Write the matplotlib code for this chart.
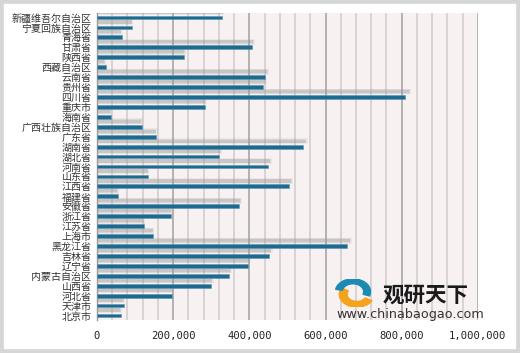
"""Horizontal bar chart of provincial values, recreated with matplotlib."""

import numpy as np
import matplotlib.pyplot as plt
from matplotlib.patches import Rectangle, Wedge
from matplotlib.ticker import MultipleLocator, FuncFormatter

plt.rcParams['font.family'] = ['Noto Sans CJK SC', 'DejaVu Sans']

# provinces, top to bottom as drawn
provinces = ['新疆维吾尔自治区', '宁夏回族自治区', '青海省', '甘肃省', '陕西省',
             '西藏自治区', '云南省', '贵州省', '四川省', '重庆市', '海南省',
             '广西壮族自治区', '广东省', '湖南省', '湖北省', '河南省', '山东省',
             '江西省', '福建省', '安徽省', '浙江省', '江苏省', '上海市',
             '黑龙江省', '吉林省', '辽宁省', '内蒙古自治区', '山西省', '河北省',
             '天津市', '北京市']
values = [327000, 93000, 65000, 406000, 228000,
          23000, 441000, 437000, 808000, 283000, 37000,
          118000, 155000, 541000, 320000, 449000, 134000,
          504000, 55000, 373000, 194000, 123000, 147000,
          656000, 451000, 396000, 346000, 299000, 197000,
          71000, 63000]
x_ticks = [0, 200000, 400000, 600000, 800000, 1000000]

bar_color = '#1d6a91'
shadow_color = '#9c9c9c'

fig = plt.figure(figsize=(5.2, 3.53), dpi=100)
ax = fig.add_axes([0.1865, 0.0935, 0.7325, 0.871])
ax.set_facecolor('#f8f1f1')

y = np.arange(len(provinces))
vals = np.array(values, dtype=float)

# soft drop shadow, offset upwards a little
shadow = np.clip(vals * 1.02 - 5000, 0, None)
for h, a, extra in [(0.6, 0.12, 6000), (0.46, 0.2, 3000), (0.32, 0.3, 1000)]:
    ax.barh(y - 0.55, shadow + extra, height=h, color=shadow_color,
            alpha=a, linewidth=0, zorder=2)

ax.barh(y, vals, height=0.38, color=bar_color, edgecolor='#5d95b3',
        linewidth=0.4, zorder=3)

ax.set_xlim(0, 1000000)
ax.set_ylim(30.45, -0.5)
ax.set_yticks(y)
ax.set_yticklabels(provinces, fontsize=7.2, color='#333333')
ax.set_xticks(x_ticks)
ax.xaxis.set_minor_locator(MultipleLocator(40000))
ax.xaxis.set_major_formatter(FuncFormatter(lambda v, p: f"{int(v):,}"))
for lbl in ax.get_xticklabels():
    lbl.set_family('DejaVu Sans Mono')
    lbl.set_fontsize(7.6)
    lbl.set_color('#222222')

ax.tick_params(axis='both', which='both', length=0)
ax.tick_params(axis='x', pad=8)
ax.tick_params(axis='y', pad=4)
ax.set_axisbelow(True)
ax.grid(axis='x', which='minor', color='#d2cbcb', linewidth=1.1)
ax.grid(axis='x', which='major', color='#a9a6a6', linewidth=1.2)
for side in ['top', 'right', 'bottom']:
    ax.spines[side].set_visible(False)
ax.spines['left'].set_color('#9a9a9a')
ax.spines['left'].set_linewidth(1.0)

# watermark
fig.text(0.735, 0.165, '观研天下', fontsize=15.5, fontweight='bold',
         color='#1a1a1a', va='center', ha='left')
fig.text(0.648, 0.108, 'www.chinabaogao.com', fontsize=9.2,
         family='DejaVu Sans', color='#333333', va='center', ha='left')
logo_ax = fig.add_axes([0.645, 0.13, 0.075, 0.08])
logo_ax.set_xlim(-1, 1)
logo_ax.set_ylim(-1, 1)
logo_ax.axis('off')
logo_ax.add_patch(Wedge((0.1, -0.1), 0.9, 150, 330, width=0.4,
                        color='#f3a31c'))
logo_ax.add_patch(Wedge((-0.1, 0.1), 0.9, -20, 170, width=0.35,
                        color='#1b8bb3'))

# figure frame
fig.patches.append(Rectangle((0, 0), 1, 1, transform=fig.transFigure,
                             fill=False, edgecolor='#d6d6d6', linewidth=5.5))

fig.savefig('out.png', dpi=100)
